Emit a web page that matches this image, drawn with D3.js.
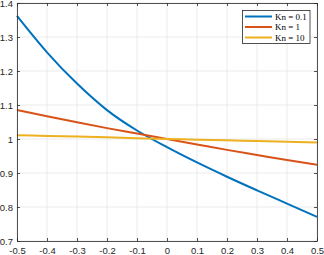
<!DOCTYPE html>
<html>
<head>
<meta charset="utf-8">
<script src="https://cdn.jsdelivr.net/npm/d3@7"></script>
<style>
  body { margin: 0; background: #fff; }
  svg { display: block; }
  .tick text { font-family: "Liberation Sans", Arial, sans-serif; font-size: 9.5px; fill: #262626; }
</style>
</head>
<body>
<svg id="chart" width="324" height="255"></svg>
<script>
// data
var x_vals = [-0.5, -0.4, -0.3, -0.2, -0.1, 0, 0.1, 0.2, 0.3, 0.4, 0.5];
var kn01 = [1.362, 1.255, 1.163, 1.085, 1.025, 0.976, 0.931, 0.889, 0.849, 0.810, 0.771];
var kn1 = [1.085, 1.067, 1.049, 1.032, 1.016, 1.0, 0.984, 0.968, 0.953, 0.938, 0.924];
var kn10 = [1.011, 1.009, 1.007, 1.005, 1.002, 1.0, 0.998, 0.996, 0.994, 0.992, 0.9895];
var series_names = ["Kn = 0.1", "Kn = 1", "Kn = 10"];
var x_ticks = [-0.5, -0.4, -0.3, -0.2, -0.1, 0, 0.1, 0.2, 0.3, 0.4, 0.5];
var y_ticks = [0.7, 0.8, 0.9, 1, 1.1, 1.2, 1.3, 1.4];

var colours = ["#0072BD", "#D95319", "#EDB120"];
var all_series = [kn01, kn1, kn10];

var svg = d3.select("#chart");

// plot box
var box_left = 17, box_right = 317, box_top = 3, box_bottom = 241;

var xScale = d3.scaleLinear().domain([-0.5, 0.5]).range([box_left, box_right]);
var yScale = d3.scaleLinear().domain([0.7, 1.4]).range([box_bottom, box_top]);

// grid
svg.append("g").selectAll("line")
  .data(x_ticks).enter().append("line")
  .attr("x1", d => xScale(d)).attr("x2", d => xScale(d))
  .attr("y1", box_top).attr("y2", box_bottom)
  .attr("stroke", "#e6e6e6").attr("stroke-width", 0.8);
svg.append("g").selectAll("line")
  .data(y_ticks).enter().append("line")
  .attr("y1", d => yScale(d)).attr("y2", d => yScale(d))
  .attr("x1", box_left).attr("x2", box_right)
  .attr("stroke", "#e6e6e6").attr("stroke-width", 0.8);

// lines
var line = d3.line()
  .x((d, i) => xScale(x_vals[i]))
  .y(d => yScale(d))
  .curve(d3.curveMonotoneX);

all_series.forEach((s, k) => {
  svg.append("path")
    .datum(s)
    .attr("d", line)
    .attr("fill", "none")
    .attr("stroke", colours[k])
    .attr("stroke-width", 2);
});

// axes (ticks inward)
var fmt = d => String(+d.toFixed(1));
var axis_col = "#262626";

var xAxis = svg.append("g").attr("transform", "translate(0," + box_bottom + ")")
  .call(d3.axisBottom(xScale).tickValues(x_ticks).tickFormat(fmt).tickSizeInner(-3).tickSizeOuter(0).tickPadding(6));
var xTop = svg.append("g").attr("transform", "translate(0," + box_top + ")")
  .call(d3.axisTop(xScale).tickValues(x_ticks).tickFormat("").tickSizeInner(-3).tickSizeOuter(0));
var yAxis = svg.append("g").attr("transform", "translate(" + box_left + ",0)")
  .call(d3.axisLeft(yScale).tickValues(y_ticks).tickFormat(fmt).tickSizeInner(-3).tickSizeOuter(0).tickPadding(4));
var yRight = svg.append("g").attr("transform", "translate(" + box_right + ",0)")
  .call(d3.axisRight(yScale).tickValues(y_ticks).tickFormat("").tickSizeInner(-3).tickSizeOuter(0));

[xAxis, xTop, yAxis, yRight].forEach(g => {
  g.select(".domain").attr("stroke", axis_col).attr("stroke-width", 0.8);
  g.selectAll(".tick line").attr("stroke", axis_col).attr("stroke-width", 0.8);
});

// legend
var lg = svg.append("g");
lg.append("rect")
  .attr("x", 242.5).attr("y", 10.5).attr("width", 67.5).attr("height", 33)
  .attr("fill", "#fff").attr("stroke", axis_col).attr("stroke-width", 0.8);
series_names.forEach((name, k) => {
  var yy = 16.5 + k * 10.5;
  lg.append("line")
    .attr("x1", 245).attr("x2", 272).attr("y1", yy).attr("y2", yy)
    .attr("stroke", colours[k]).attr("stroke-width", 2);
  lg.append("text")
    .attr("x", 275).attr("y", yy + 3)
    .attr("font-family", "'Liberation Serif', 'DejaVu Serif', serif")
    .attr("font-size", "9px")
    .attr("fill", "#000")
    .text(name);
});
</script>
</body>
</html>
